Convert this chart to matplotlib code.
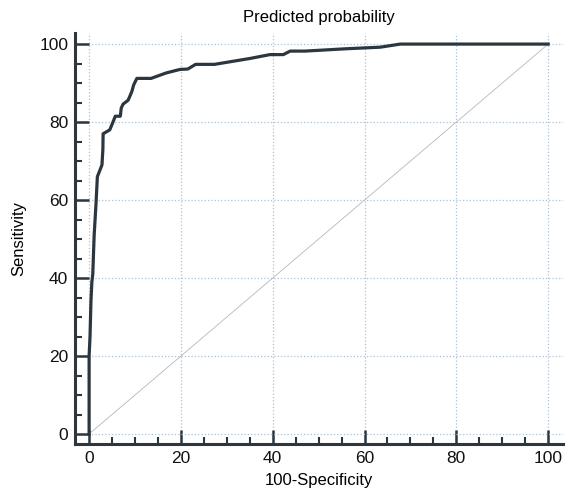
import numpy as np
import matplotlib.pyplot as plt

plt.rcParams['font.family'] = ['Liberation Sans', 'DejaVu Sans']

## ROC curve
fpr = [0, 0, 0.2, 0.4, 0.6, 0.8, 1.1, 1.5, 1.8, 2.8, 3.0, 3.05, 4.5, 5.2, 5.7,
       6.8, 7.0, 7.4, 8.5, 9.3, 9.7, 10.4, 13.5, 16.8, 19.8, 21.5, 23.2, 27.3,
       35.0, 39.4, 42.3, 43.8, 47.0, 56.0, 63.4, 67.8, 100]
tpr = [0, 20, 25, 34, 39, 41, 51, 59, 66, 69, 73, 77, 78, 80, 81.5,
       81.5, 83.6, 84.6, 85.6, 87.8, 89.5, 91.2, 91.2, 92.6, 93.5, 93.6, 94.8, 94.8,
       96.3, 97.3, 97.3, 98.2, 98.2, 98.8, 99.2, 100, 100]
ref_line = [0, 100]
ticks = [0, 20, 40, 60, 80, 100]

dark = '#2b363e'

fig = plt.figure(figsize=(5.69, 4.92), dpi=100)
ax = fig.add_axes([0.132, 0.0976, 0.858, 0.835])

ax.plot(ref_line, ref_line, color='#b8b8b8', lw=0.6, zorder=2)
ax.plot(fpr, tpr, color=dark, lw=2.3, zorder=3)

ax.set_xlim(-3.05, 103.3)
ax.set_ylim(-2.56, 102.8)
ax.set_xticks(ticks)
ax.set_yticks(ticks)
ax.set_xticks(np.arange(0, 101, 5), minor=True)
ax.set_yticks(np.arange(0, 101, 5), minor=True)
ax.grid(True, which='major', color='#a9c1d9', ls=':', lw=0.9, zorder=1)

for s in ['top', 'right']:
    ax.spines[s].set_visible(False)
for s in ['left', 'bottom']:
    ax.spines[s].set_linewidth(2.2)
    ax.spines[s].set_color(dark)

ax.tick_params(which='major', direction='in', length=10, width=1.8, color=dark,
               labelsize=12.5, labelcolor='#111111', pad=5)
ax.tick_params(which='minor', direction='in', length=5, width=1.5, color=dark)

ax.set_title('Predicted probability', fontsize=12, pad=8)
ax.set_xlabel('100-Specificity', fontsize=12, labelpad=5)
ax.set_ylabel('Sensitivity', fontsize=12, labelpad=9)

fig.savefig('out.png', dpi=100)
